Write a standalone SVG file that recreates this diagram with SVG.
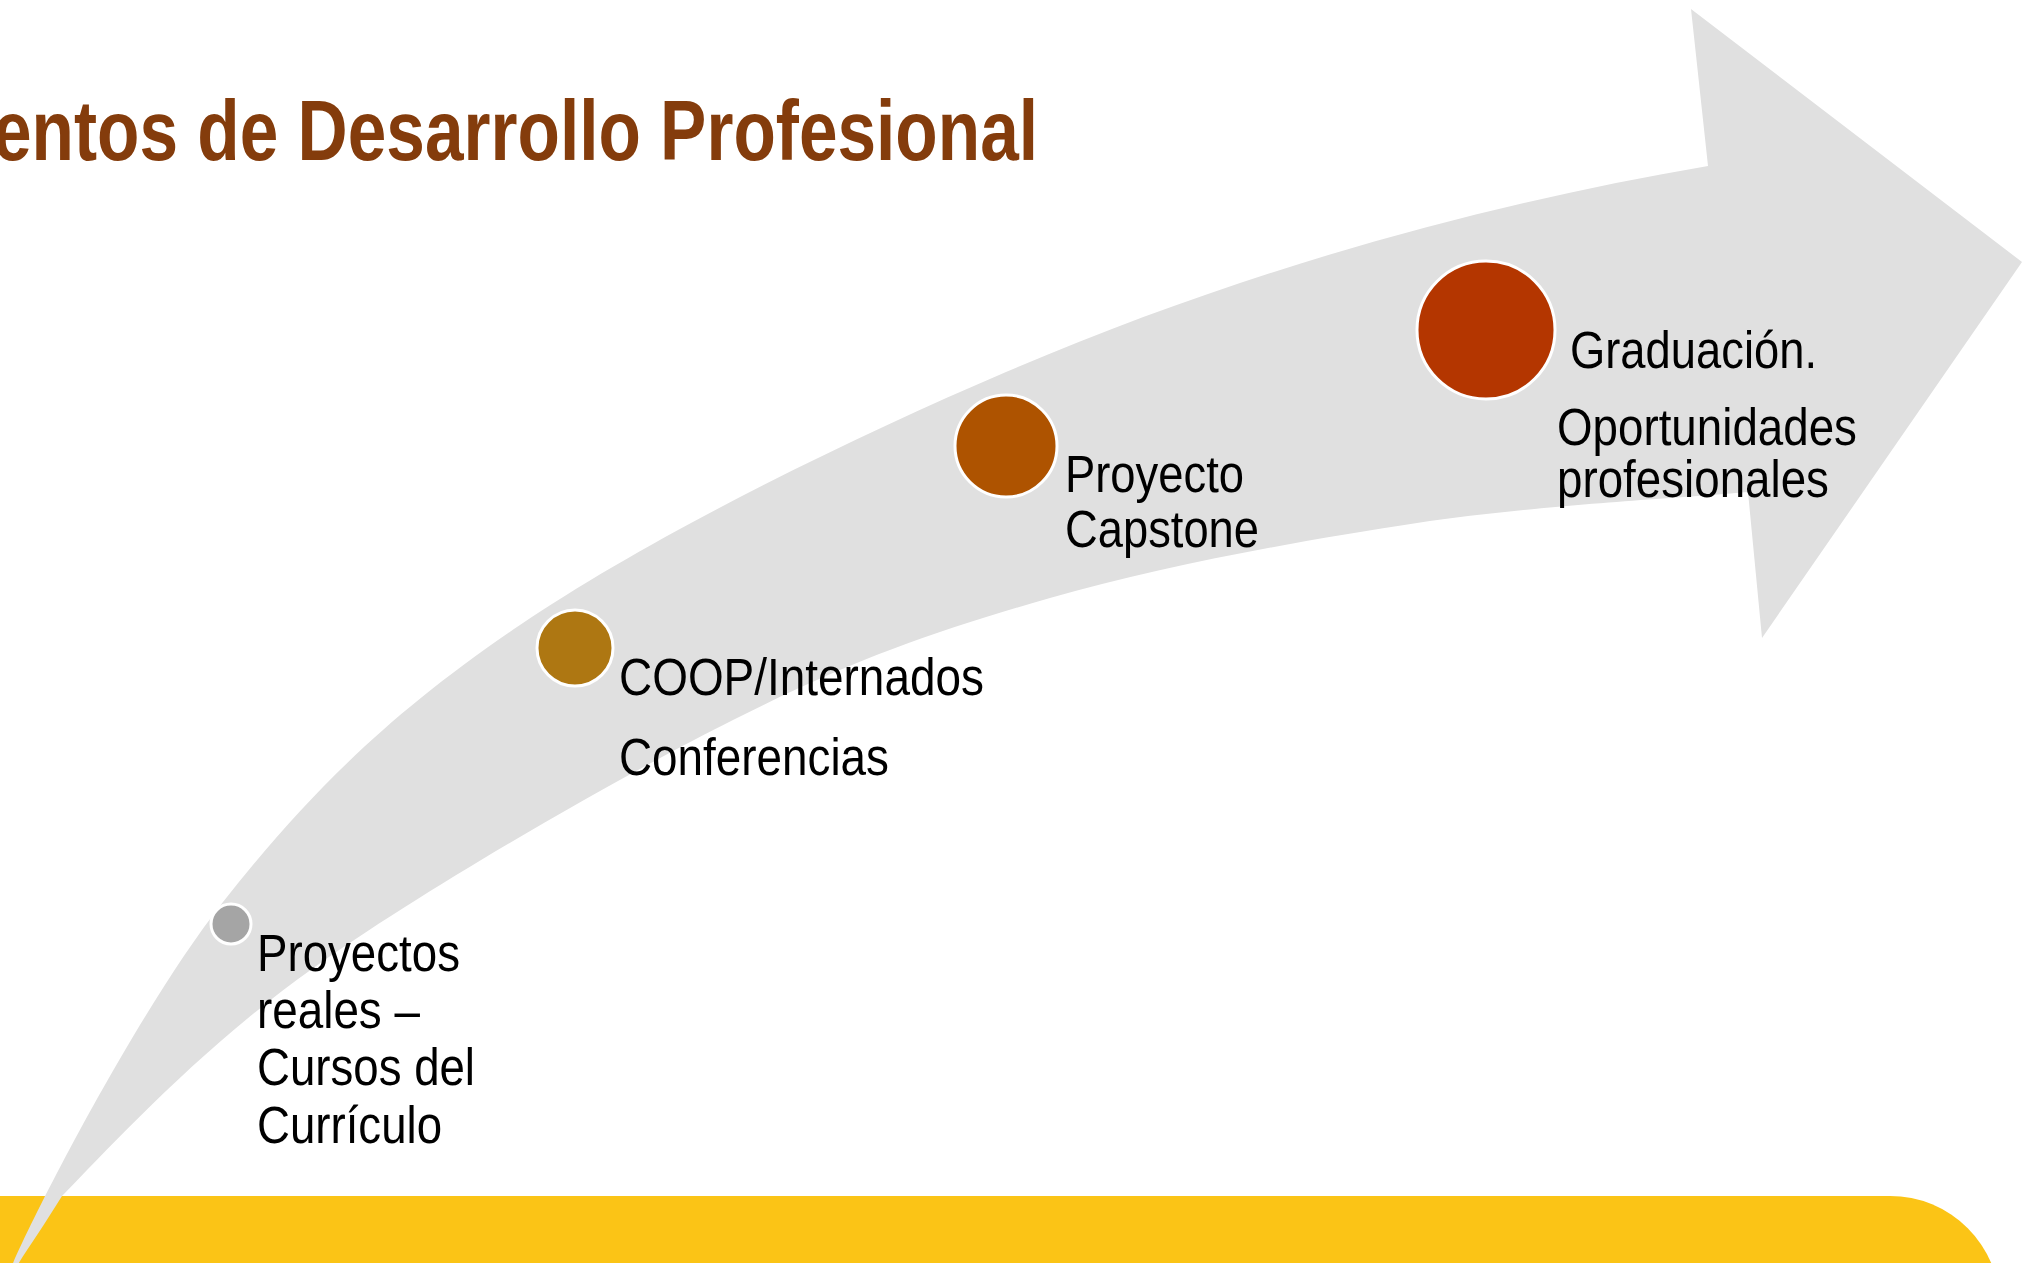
<svg xmlns="http://www.w3.org/2000/svg" width="2035" height="1263" viewBox="0 0 2035 1263">
  <style>
    .lbl { font-family: "Liberation Sans Narrow", "Liberation Sans", Arial, sans-serif; font-size: 51px; fill: #000000; }
    .title { font-family: "Liberation Sans Narrow", "Liberation Sans", Arial, sans-serif; font-size: 86px; font-weight: bold; fill: #843C0C; }
    .dot { stroke: #FFFFFF; stroke-width: 3; }
  </style>
  <rect width="2035" height="1263" fill="#FFFFFF"/>
  <text class="title" x="-7" y="160" textLength="1045" lengthAdjust="spacingAndGlyphs">entos de Desarrollo Profesional</text>
  <rect id="band" x="-200" y="1196" width="2200" height="400" rx="110" ry="110" fill="#FBC416"/>
  <g id="connectors">
    <path id="arrow" fill="#E0E0E0" d="M 8 1275 C 30 1220, 137.7 1010.3, 223 902 C 308.3 793.7, 389.5 713.3, 520 625 C 650.5 536.7, 845 440.8, 1006 372 C 1240 272, 1474 206, 1708 166 L 1691 9 L 2022 262 L 1762 638 L 1748 492 C 1692.8 497.2, 1533.3 505.3, 1417 523 C 1300.7 540.7, 1164 565.2, 1050 598 C 936 630.8, 856 658.2, 733 720 C 610 781.8, 423.8 889.7, 312 969 C 200.2 1048.3, 112 1145, 62 1196 C 40 1232, 18 1262, 12 1275 Z"/>
  </g>
  <g id="node-proyectos">
    <circle class="dot" cx="231" cy="924" r="20" fill="#A5A5A5"/>
    <text class="lbl" x="257" y="971" textLength="203" lengthAdjust="spacingAndGlyphs">Proyectos</text>
    <text class="lbl" x="257" y="1028" textLength="163" lengthAdjust="spacingAndGlyphs">reales –</text>
    <text class="lbl" x="257" y="1085" textLength="218" lengthAdjust="spacingAndGlyphs">Cursos del</text>
    <text class="lbl" x="257" y="1143" textLength="185" lengthAdjust="spacingAndGlyphs">Currículo</text>
  </g>
  <g id="node-coop">
    <circle class="dot" cx="575" cy="648" r="38" fill="#AE7712"/>
    <text class="lbl" x="619" y="695" textLength="365" lengthAdjust="spacingAndGlyphs">COOP/Internados</text>
    <text class="lbl" x="619" y="775" textLength="270" lengthAdjust="spacingAndGlyphs">Conferencias</text>
  </g>
  <g id="node-capstone">
    <circle class="dot" cx="1006" cy="446" r="51" fill="#AE5300"/>
    <text class="lbl" x="1065" y="492" textLength="179" lengthAdjust="spacingAndGlyphs">Proyecto</text>
    <text class="lbl" x="1065" y="547" textLength="194" lengthAdjust="spacingAndGlyphs">Capstone</text>
  </g>
  <g id="node-graduacion">
    <circle class="dot" cx="1486" cy="330" r="69" fill="#B43600"/>
    <text class="lbl" x="1570" y="368" textLength="247" lengthAdjust="spacingAndGlyphs">Graduación.</text>
    <text class="lbl" x="1557" y="445" textLength="300" lengthAdjust="spacingAndGlyphs">Oportunidades</text>
    <text class="lbl" x="1557" y="497" textLength="272" lengthAdjust="spacingAndGlyphs">profesionales</text>
  </g>
</svg>
